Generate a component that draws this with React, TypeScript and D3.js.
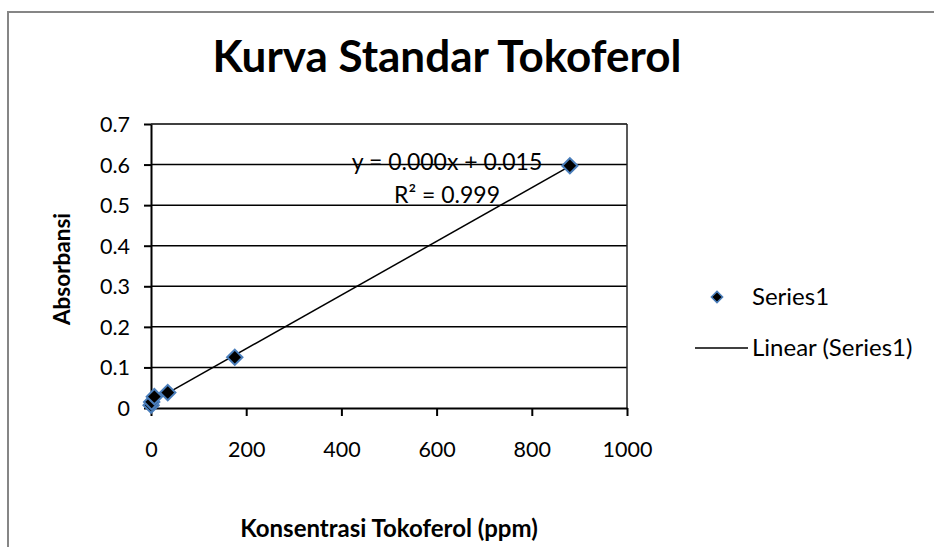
import { useEffect, useRef } from 'react';
import * as d3 from 'd3';

// standard series (ppm vs absorbance)
const konsentrasi = [0.28, 1.41, 7.04, 35.2, 176, 880];
const absorbansi = [0.007, 0.015, 0.028, 0.038, 0.125, 0.597];
const yTicks = [0, 0.1, 0.2, 0.3, 0.4, 0.5, 0.6, 0.7];
const xTicks = [0, 200, 400, 600, 800, 1000];
const equationLabel = 'y = 0.000x + 0.015';
const r2Label = 'R² = 0.999';
const legendLabels = ['Series1', 'Linear (Series1)'];

const FONT = 'Lato, "Open Sans", sans-serif';

export default function App() {
  const svgRef = useRef<SVGSVGElement | null>(null);

  useEffect(() => {
    if (!svgRef.current) return;
    const svg = d3.select(svgRef.current);
    svg.selectAll('*').remove();

    const W = 934;
    const H = 547;
    const left = 151;
    const right = 627;
    const top = 124;
    const bottom = 408;

    // outer frame (extends past the window on the right / bottom)
    svg.append('rect')
      .attr('x', 8)
      .attr('y', 12)
      .attr('width', W + 20)
      .attr('height', H + 20)
      .attr('fill', '#fff')
      .attr('stroke', '#868686')
      .attr('stroke-width', 2);

    const x = d3.scaleLinear().domain([0, 1000]).range([left, right]);
    const y = d3.scaleLinear().domain([0, 0.7]).range([bottom, top]);

    const g = svg.append('g').style('font-family', FONT);

    // gridlines
    g.append('g')
      .selectAll('line')
      .data(yTicks.filter((d) => d > 0))
      .enter()
      .append('line')
      .attr('x1', left)
      .attr('x2', right)
      .attr('y1', (d) => y(d))
      .attr('y2', (d) => y(d))
      .attr('stroke', '#000')
      .attr('stroke-width', 1.5);

    // right edge of plot area
    g.append('line')
      .attr('x1', right)
      .attr('x2', right)
      .attr('y1', top)
      .attr('y2', bottom)
      .attr('stroke', '#222')
      .attr('stroke-width', 1.5);

    // axes
    const yAxis = g.append('g')
      .attr('transform', `translate(${left},0)`)
      .call(d3.axisLeft(y).tickValues(yTicks).tickSize(7).tickSizeOuter(0).tickPadding(14).tickFormat(d3.format('')));
    const xAxis = g.append('g')
      .attr('transform', `translate(0,${bottom})`)
      .call(d3.axisBottom(x).tickValues(xTicks).tickSize(8).tickSizeOuter(0).tickPadding(26).tickFormat(d3.format('')));

    [yAxis, xAxis].forEach((ax) => {
      ax.selectAll('.domain, .tick line').attr('stroke', '#000').attr('stroke-width', 2);
      ax.selectAll('text')
        .style('font-family', FONT)
        .style('font-size', '21.5px')
        .attr('fill', '#000');
    });
    yAxis.selectAll('text').attr('dy', '0.35em');

    // linear trendline from least squares fit
    const n = konsentrasi.length;
    const mx = d3.mean(konsentrasi) as number;
    const my = d3.mean(absorbansi) as number;
    let sxy = 0;
    let sxx = 0;
    for (let i = 0; i < n; i++) {
      sxy += (konsentrasi[i] - mx) * (absorbansi[i] - my);
      sxx += (konsentrasi[i] - mx) ** 2;
    }
    const slope = sxy / sxx;
    const intercept = my - slope * mx;
    const xMin = d3.min(konsentrasi) as number;
    const xMax = d3.max(konsentrasi) as number;
    g.append('line')
      .attr('x1', x(xMin))
      .attr('y1', y(intercept + slope * xMin))
      .attr('x2', x(xMax))
      .attr('y2', y(intercept + slope * xMax))
      .attr('stroke', '#000')
      .attr('stroke-width', 1.5);

    // markers
    const diamond = d3.symbol().type(d3.symbolDiamond2).size(150);
    g.append('g')
      .selectAll('path')
      .data(konsentrasi.map((k, i) => [k, absorbansi[i]]))
      .enter()
      .append('path')
      .attr('transform', (d) => `translate(${x(d[0])},${y(d[1])})`)
      .attr('d', diamond)
      .attr('fill', '#000')
      .attr('stroke', '#4a7ebb')
      .attr('stroke-width', 2);

    // equation
    g.append('text')
      .attr('x', 447)
      .attr('y', 170)
      .attr('text-anchor', 'middle')
      .style('font-size', '23px')
      .text(equationLabel);
    g.append('text')
      .attr('x', 447)
      .attr('y', 203)
      .attr('text-anchor', 'middle')
      .style('font-size', '23px')
      .text(r2Label);

    // title + axis titles
    g.append('text')
      .attr('x', 447)
      .attr('y', 72)
      .attr('text-anchor', 'middle')
      .style('font-size', '44px')
      .style('font-weight', 'bold')
      .text('Kurva Standar Tokoferol');
    g.append('text')
      .attr('x', 389)
      .attr('y', 537)
      .attr('text-anchor', 'middle')
      .style('font-size', '24px')
      .style('font-weight', 'bold')
      .text('Konsentrasi Tokoferol (ppm)');
    g.append('text')
      .attr('transform', 'translate(70,269) rotate(-90)')
      .attr('text-anchor', 'middle')
      .style('font-size', '22.5px')
      .style('font-weight', 'bold')
      .text('Absorbansi');

    // legend
    const lg = g.append('g');
    lg.append('path')
      .attr('transform', 'translate(717,297)')
      .attr('d', d3.symbol().type(d3.symbolDiamond2).size(80))
      .attr('fill', '#000')
      .attr('stroke', '#4a7ebb')
      .attr('stroke-width', 1.5);
    lg.append('text').attr('x', 752).attr('y', 305).style('font-size', '24px').text(legendLabels[0]);
    lg.append('line')
      .attr('x1', 695).attr('x2', 748)
      .attr('y1', 348).attr('y2', 348)
      .attr('stroke', '#000').attr('stroke-width', 1.5);
    lg.append('text').attr('x', 752).attr('y', 356).style('font-size', '24px').text(legendLabels[1]);
  }, []);

  return (
    <svg
      ref={svgRef}
      width={934}
      height={547}
      style={{ position: 'absolute', left: 0, top: 0, background: '#fff' }}
    />
  );
}
